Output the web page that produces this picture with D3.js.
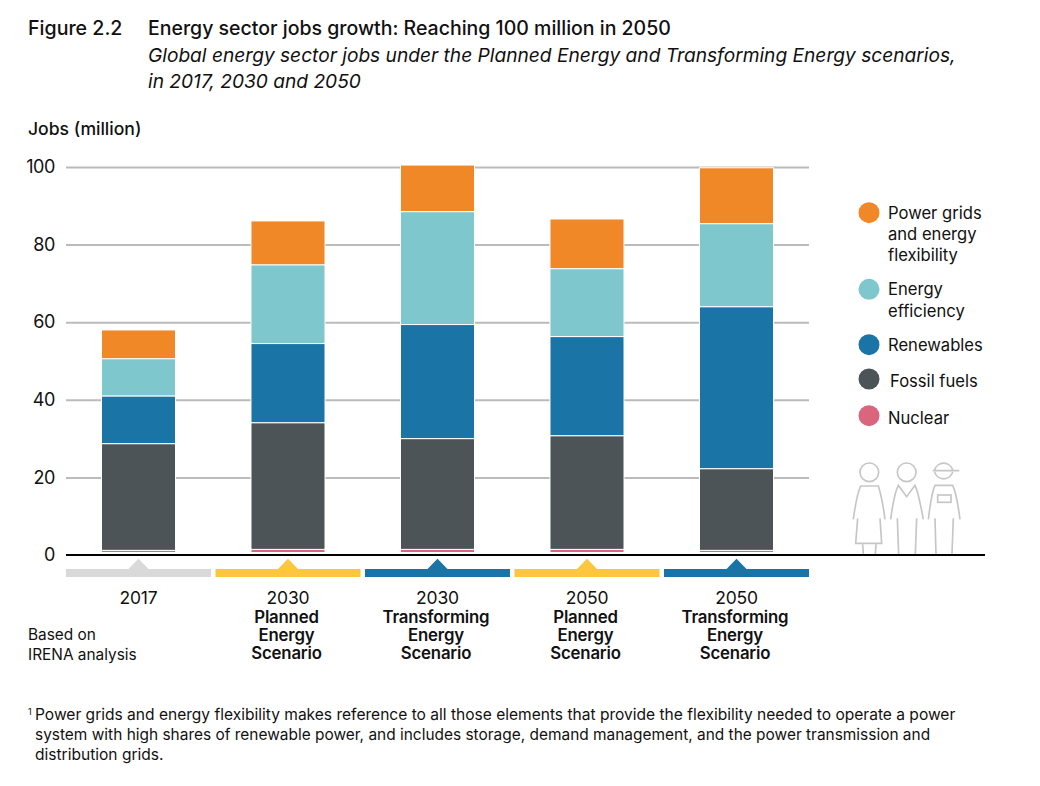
<!DOCTYPE html>
<html>
<head>
<meta charset="utf-8">
<script src="https://cdn.jsdelivr.net/npm/d3@7"></script>
<style>
  html, body { margin: 0; padding: 0; background: #fff; }
  svg { display: block; }
  text { font-family: Inter, sans-serif; fill: #111; }
</style>
</head>
<body>
<svg id="chart" width="1040" height="786"></svg>
<script>
const categories = ['2017 base', '2030 PES', '2030 TES', '2050 PES', '2050 TES']
const years = ['2017', '2030', '2030', '2050', '2050']
const scenarioNames = [
  [],
  ['Planned', 'Energy', 'Scenario'],
  ['Transforming', 'Energy', 'Scenario'],
  ['Planned', 'Energy', 'Scenario'],
  ['Transforming', 'Energy', 'Scenario']
]
const scenarioColors = ['#d9d9d9', '#fcc73e', '#1a75a6', '#fcc73e', '#1a75a6']

const nuclear = [1.2, 1.45, 1.45, 1.45, 1.2]
const fossil = [27.5, 32.65, 28.55, 29.3, 21.05]
const renewables = [12.3, 20.4, 29.4, 25.55, 41.75]
const efficiency = [9.6, 20.3, 29.1, 17.5, 21.4]
const grids = [7.4, 11.3, 12, 12.8, 14.4]

const seriesKeys = ['nuclear', 'fossil', 'renewables', 'efficiency', 'grids']
const seriesColors = ['#d9667c', '#4d5457', '#1a75a6', '#7dc7cd', '#f08828']
const yTicks = [0, 20, 40, 60, 80, 100]

const table = categories.map((c, i) => ({
  category: c,
  nuclear: nuclear[i],
  fossil: fossil[i],
  renewables: renewables[i],
  efficiency: efficiency[i],
  grids: grids[i]
}))

const svg = d3.select('#chart')

const x = d3.scaleBand().domain(categories).range([63.75, 811.25]).paddingInner(0.505).paddingOuter(0.2525)
const y = d3.scaleLinear().domain([0, 100]).range([555, 167])
const color = d3.scaleOrdinal().domain(seriesKeys).range(seriesColors)

function label (sel, str, px, py, size, weight, anchor, italic) {
  return sel.append('text')
    .attr('x', px)
    .attr('y', py)
    .attr('font-size', size)
    .attr('font-weight', weight || 400)
    .attr('text-anchor', anchor || 'start')
    .attr('font-style', italic ? 'italic' : 'normal')
    .text(str)
}

// heading
label(svg, 'Figure 2.2', 28, 35, 19.6, 500)
label(svg, 'Energy sector jobs growth: Reaching 100 million in 2050', 148, 35, 19.5, 500)
label(svg, 'Global energy sector jobs under the Planned Energy and Transforming Energy scenarios,', 148, 62, 19.15, 400, 'start', true)
label(svg, 'in 2017, 2030 and 2050', 148, 88, 19.15, 400, 'start', true)
label(svg, 'Jobs (million)', 28, 135, 17.6, 500)

// y axis + gridlines
const yAxis = d3.axisLeft(y).tickValues(yTicks).tickSize(0).tickPadding(11)
const axisG = svg.append('g').attr('transform', 'translate(66,0)').call(yAxis)
axisG.select('.domain').remove()
axisG.selectAll('text')
  .attr('font-size', 18)
  .attr('letter-spacing', -0.4)
  .attr('font-family', 'Inter, sans-serif')
  .style('fill', '#111')
axisG.selectAll('.tick').filter(d => d !== 0).select('line')
  .attr('x2', 743)
  .attr('stroke', '#bbb')
  .attr('stroke-width', 2)

// stacked bars, white outline keeps segments apart
const stacked = d3.stack().keys(seriesKeys)(table)
svg.append('g').selectAll('g')
  .data(stacked)
  .join('g')
  .attr('fill', d => color(d.key))
  .selectAll('rect')
  .data(d => d)
  .join('rect')
  .attr('x', d => x(d.data.category))
  .attr('y', d => y(d[1]))
  .attr('width', x.bandwidth())
  .attr('height', d => y(d[0]) - y(d[1]))
  .attr('stroke', '#fff')
  .attr('stroke-width', 1)

// baseline, with a white gap above it
svg.append('line').attr('x1', 66).attr('x2', 985).attr('y1', y(0) - 2).attr('y2', y(0) - 2)
  .attr('stroke', '#fff').attr('stroke-width', 2)
svg.append('line').attr('x1', 66).attr('x2', 985).attr('y1', y(0)).attr('y2', y(0))
  .attr('stroke', '#000').attr('stroke-width', 2)

// scenario markers under the axis
categories.forEach((c, i) => {
  const cx = x(c) + x.bandwidth() / 2
  const path = d3.path()
  path.moveTo(cx - 72.5, 569)
  path.lineTo(cx - 10, 569)
  path.lineTo(cx, 558.7)
  path.lineTo(cx + 10, 569)
  path.lineTo(cx + 72.5, 569)
  path.lineTo(cx + 72.5, 577)
  path.lineTo(cx - 72.5, 577)
  path.closePath()
  svg.append('path').attr('d', path.toString()).attr('fill', scenarioColors[i])

  const t = label(svg, years[i], cx, 604, 17.5, 400, 'middle').attr('letter-spacing', -0.2)
  scenarioNames[i].forEach((line, j) => {
    t.append('tspan')
      .attr('x', cx - 1.5)
      .attr('dy', j === 0 ? 19 : 18)
      .attr('font-size', 16.8)
      .attr('font-weight', 600)
      .text(line)
  })
})

const note = label(svg, 'Based on', 28, 640, 15.4)
note.append('tspan').attr('x', 28).attr('dy', 20).text('IRENA analysis')

// legend
const legendItems = [
  { key: 'grids', cy: 212.7, tx: 888, lines: [['Power grids', 219], ['and energy', 240], ['flexibility', 261]] },
  { key: 'efficiency', cy: 289.3, tx: 888, lines: [['Energy', 295], ['efficiency', 317]] },
  { key: 'renewables', cy: 344.7, tx: 888, lines: [['Renewables', 351]] },
  { key: 'fossil', cy: 379, tx: 890, lines: [['Fossil fuels', 387]] },
  { key: 'nuclear', cy: 415.7, tx: 888, lines: [['Nuclear', 424]] }
]
legendItems.forEach(item => {
  svg.append('circle').attr('cx', 869).attr('cy', item.cy).attr('r', 10.5).attr('fill', color(item.key))
  item.lines.forEach(l => label(svg, l[0], item.tx, l[1], 16.6))
})

// workers icon
const icon = svg.append('g')
  .attr('transform', 'translate(840,450) scale(0.3333)')
  .attr('fill', 'none')
  .attr('stroke', '#c6c6c6')
  .attr('stroke-width', 5)
icon.append('circle').attr('cx', 88).attr('cy', 67).attr('r', 28)
icon.append('path').attr('d', 'M40,208 C45,170 52,130 62,108 L115,108 C122,130 130,170 135,208')
icon.append('path').attr('d', 'M53,205 L47,280 L125,280 L120,205 M68,283 L70,312 M108,283 L106,312')
icon.append('circle').attr('cx', 200).attr('cy', 67).attr('r', 28)
icon.append('path').attr('d', 'M152,208 C157,170 165,125 175,106 L200,140 L225,106 C235,125 243,170 250,208')
icon.append('path').attr('d', 'M172,205 L176,312 M230,205 L226,312')
icon.append('path').attr('d', 'M284,66 A28,28 0 0 0 338,66 M284,60 A28,28 0 0 1 338,60 M278,62 L358,62')
icon.append('path').attr('d', 'M265,208 C270,170 275,125 285,106 L338,106 C350,130 355,170 360,208')
icon.append('rect').attr('x', 293).attr('y', 135).attr('width', 40).attr('height', 22)
icon.append('path').attr('d', 'M285,205 L288,312 M340,205 L336,312')

// footnote
label(svg, '1', 28, 715, 9)
label(svg, 'Power grids and energy flexibility makes reference to all those elements that provide the flexibility needed to operate a power', 35, 720, 15.55)
label(svg, 'system with high shares of renewable power, and includes storage, demand management, and the power transmission and', 35, 740, 15.45)
label(svg, 'distribution grids.', 35, 760, 15.55)
</script>
</body>
</html>
